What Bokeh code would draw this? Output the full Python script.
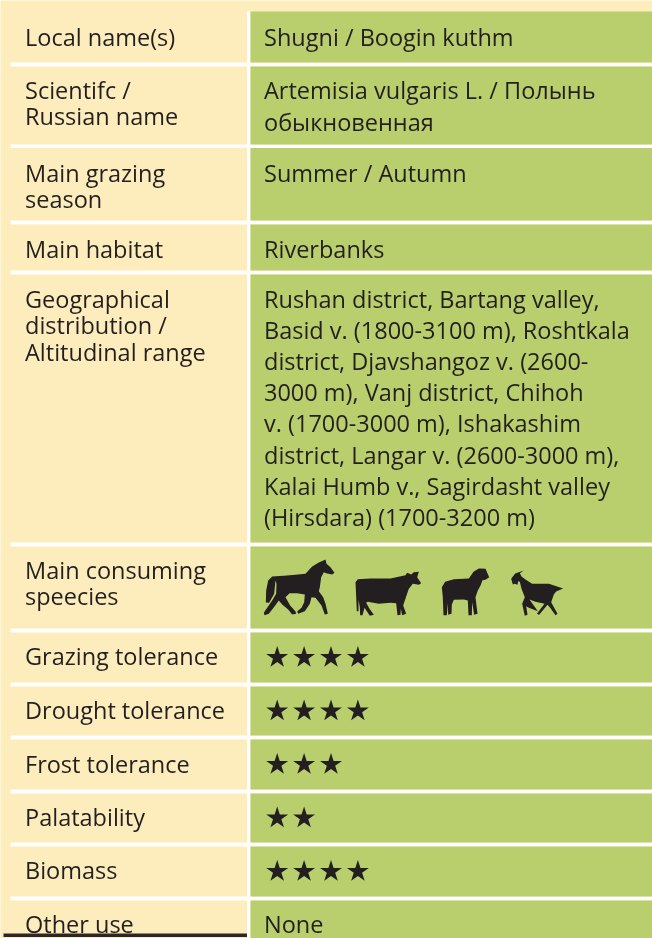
from bokeh.plotting import figure
from bokeh.models import Range1d
from bokeh.core.properties import value
from bokeh.embed import file_html
from bokeh.resources import INLINE

# ---- content ----
row_labels = [
    ["Local name(s)"],
    ["Scientifc /", "Russian name"],
    ["Main grazing", "season"],
    ["Main habitat"],
    ["Geographical", "distribution /", "Altitudinal range"],
    ["Main consuming", "speecies"],
    ["Grazing tolerance"],
    ["Drought tolerance"],
    ["Frost tolerance"],
    ["Palatability"],
    ["Biomass"],
    ["Other use"],
]
row_values = [
    ["Shugni / Boogin kuthm"],
    ["Artemisia vulgaris L. / Полынь", "обыкновенная"],
    ["Summer / Autumn"],
    ["Riverbanks"],
    ["Rushan district, Bartang valley,", "Basid v. (1800-3100 m), Roshtkala",
     "district, Djavshangoz v. (2600-", "3000 m), Vanj district, Chihoh",
     "v. (1700-3000 m), Ishakashim", "district, Langar v. (2600-3000 m),",
     "Kalai Humb v., Sagirdasht valley", "(Hirsdara) (1700-3200 m)"],
    [],
    [], [], [], [], [],
    ["None"],
]
star_counts = [0, 0, 0, 0, 0, 0, 4, 4, 3, 2, 4, 0]

# ---- layout ----
W, H = 652, 938
CREAM, GREEN, WHITE, INK = "#FEEDBC", "#B9CE6C", "#FFFFFF", "#231F20"
row_top = [11, 66, 147.5, 224, 274, 546, 632, 686, 739, 793, 846, 900]
row_bot = [62, 144, 220, 270, 542, 628, 682, 735, 789, 842, 896, 938]
label_base = [45, 98, 181, 257, 307, 578, 664, 718, 772, 825, 878, 932]
label_step = [0, 26.7, 26.7, 0, 26.7, 26.7, 0, 0, 0, 0, 0, 0]
value_step = [0, 32, 0, 0, 31.2, 0, 0, 0, 0, 0, 0, 0]
LABEL_X, VALUE_X = 24.5, 263.5
COL_R, GREEN_L = 246.5, 250
FONT = value("Open Sans")
SIZE = "23.5px"
TEXT_SHIFT = -9

p = figure(width=W, height=H, output_backend="svg", toolbar_location=None,
           x_range=Range1d(0, W), y_range=Range1d(H, 0),
           min_border=0, outline_line_color=None,
           background_fill_color=CREAM, border_fill_color=CREAM,
           styles={"position": "fixed", "left": "0", "top": "0"})
p.axis.visible = False
p.grid.visible = False

p.quad(left=[COL_R], right=[GREEN_L], top=[11], bottom=[H], color=WHITE, line_width=0)
p.quad(left=[10] * 11, right=[W] * 11, top=row_bot[:-1], bottom=row_top[1:], color=WHITE, line_width=0)
p.quad(left=[GREEN_L] * 12, right=[W] * 12, top=row_top, bottom=row_bot, color=GREEN, line_width=0)

lx, ly, lt, vx, vy, vt = [], [], [], [], [], []
for i, lines in enumerate(row_labels):
    for j, s in enumerate(lines):
        lx.append(LABEL_X); ly.append(label_base[i] + j * label_step[i]); lt.append(s)
for i, lines in enumerate(row_values):
    for j, s in enumerate(lines):
        vx.append(VALUE_X); vy.append(label_base[i] + j * value_step[i]); vt.append(s)

for xs, ys, ts in ((lx, ly, lt), (vx, vy, vt)):
    p.text(x=xs, y=ys, text=ts, text_font=FONT, text_font_size=SIZE, text_color=INK,
           text_baseline="alphabetic", text_align="left", y_offset=TEXT_SHIFT)

# stars
sx, sy = [], []
for i, n in enumerate(star_counts):
    for k in range(n):
        sx.append(276.7 + k * 26.9)
        sy.append((row_top[i] + row_bot[i]) / 2)
p.scatter(x=sx, y=sy, marker="star", size=23, color=INK, line_width=0)

# animal silhouettes: outlines at 3x, each with its own anchor
horse = [(237,67),(230,72),(212,68),(205,65),(197,80),(193,110),(190,122),(203,140),(210,160),(217,190),
         (208,192),(198,165),(180,142),(168,140),(163,160),(148,182),(128,190),(125,183),(138,172),(146,155),
         (148,132),(125,128),(102,128),(90,140),(104,165),(120,183),(122,190),(110,192),(98,177),(80,162),
         (70,150),(57,168),(40,190),(27,194),(25,187),(36,170),(50,150),(62,130),(63,100),(60,90),(56,130),
         (41,157),(31,156),(32,120),(38,90),(50,78),(85,76),(120,73),(150,70),(170,48),(190,36),(210,27),
         (213,40),(225,50)]
cow = [(212,68),(205,73),(187,70),(175,85),(168,105),(158,135),(167,160),(155,164),(151,145),(150,163),
       (141,164),(137,128),(120,127),(85,130),(52,124),(47,127),(57,145),(70,163),(58,166),(42,142),(36,164),
       (29,164),(28,140),(24,118),(24,152),(19,152),(15,65),(22,56),(60,54),(120,54),(165,44),(170,37),
       (182,42),(190,35),(205,34),(200,50)]
sheep = [(161,50),(150,58),(141,59),(135,75),(127,90),(120,110),(126,160),(116,163),(110,125),(109,164),
         (99,164),(97,120),(85,117),(55,118),(49,132),(48,160),(38,163),(37,128),(34,164),(24,164),(22,112),
         (19,80),(29,64),(55,56),(100,54),(114,34),(130,24),(150,25)]
goat = [(37,72),(32,55),(44,39),(70,30),(58,38),(63,48),(76,58),(95,70),(145,70),(188,84),(167,93),(160,102),
        (152,125),(171,160),(165,164),(149,142),(141,133),(116,163),(109,160),(132,130),(105,124),(87,117),
        (112,152),(85,142),(77,137),(81,163),(73,166),(65,130),(73,110),(63,85),(58,64),(53,62),(51,73),(43,70)]
animals = [(horse, 255, 550), (cow, 350, 560), (sheep, 435, 560), (goat, 500, 560)]
p.patches(xs=[[ax + a / 3 for a, _ in s] for s, ax, ay in animals],
          ys=[[ay + b / 3 for _, b in s] for s, ax, ay in animals],
          color=INK, line_width=0)

# heavy rule at the foot of the label column
p.quad(left=[3], right=[COL_R], top=[933], bottom=[936.5], color="#2B2728", line_width=0)

open("out.html", "w").write(file_html(p, INLINE))
